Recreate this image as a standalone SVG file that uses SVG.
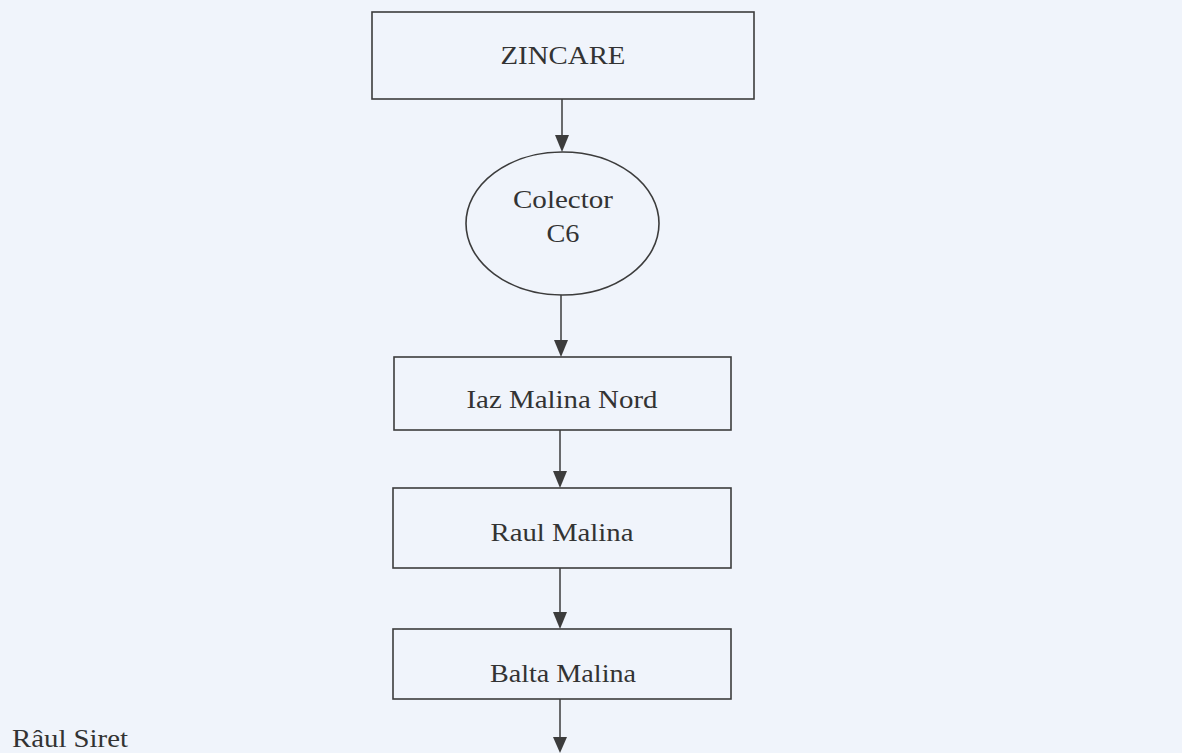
<svg xmlns="http://www.w3.org/2000/svg" width="1182" height="753" viewBox="0 0 1182 753">
<style>
.box{fill:none;stroke:#3c3c3c;stroke-width:1.6}
.con{fill:none;stroke:#3c3c3c;stroke-width:1.5}
.head{fill:#3c3c3c}
.lbl{font-family:"Liberation Serif","Times New Roman",serif;font-size:26px;fill:#333;text-anchor:middle}
.free{font-family:"Liberation Serif","Times New Roman",serif;font-size:26px;fill:#333}
</style>
<rect x="0" y="0" width="1182" height="753" fill="#f0f4fb"/>
<g id="connectors">
<line class="con" x1="562" y1="99" x2="562" y2="140"/>
<line class="con" x1="561" y1="295" x2="561" y2="345"/>
<line class="con" x1="560" y1="430" x2="560" y2="476"/>
<line class="con" x1="560" y1="568" x2="560" y2="617"/>
<line class="con" x1="560" y1="699" x2="560" y2="742"/>
<path class="head" d="M555,135 L569,135 L562,152 Z"/>
<path class="head" d="M554,340 L568,340 L561,357 Z"/>
<path class="head" d="M553,471 L567,471 L560,488 Z"/>
<path class="head" d="M553,612 L567,612 L560,629 Z"/>
<path class="head" d="M553,737 L567,737 L560,753 Z"/>
</g>
<g id="zincare">
<rect class="box" x="372" y="12" width="382" height="87"/>
<text class="lbl" x="563" y="64" textLength="125" lengthAdjust="spacingAndGlyphs">ZINCARE</text>
</g>
<g id="colector">
<ellipse class="box" cx="562.5" cy="223.5" rx="96.5" ry="71.5"/>
<text class="lbl" x="563" y="208" textLength="100" lengthAdjust="spacingAndGlyphs">Colector</text>
<text class="lbl" x="563" y="242" textLength="33" lengthAdjust="spacingAndGlyphs">C6</text>
</g>
<g id="iaz">
<rect class="box" x="394" y="357" width="337" height="73"/>
<text class="lbl" x="562" y="408" textLength="191" lengthAdjust="spacingAndGlyphs">Iaz Malina Nord</text>
</g>
<g id="raul">
<rect class="box" x="393" y="488" width="338" height="80"/>
<text class="lbl" x="562" y="541" textLength="143" lengthAdjust="spacingAndGlyphs">Raul Malina</text>
</g>
<g id="balta">
<rect class="box" x="393" y="629" width="338" height="70"/>
<text class="lbl" x="563" y="682" textLength="146" lengthAdjust="spacingAndGlyphs">Balta Malina</text>
</g>
<g id="siret">
<text class="free" x="12" y="747" textLength="116" lengthAdjust="spacingAndGlyphs">Râul Siret</text>
</g>
</svg>
